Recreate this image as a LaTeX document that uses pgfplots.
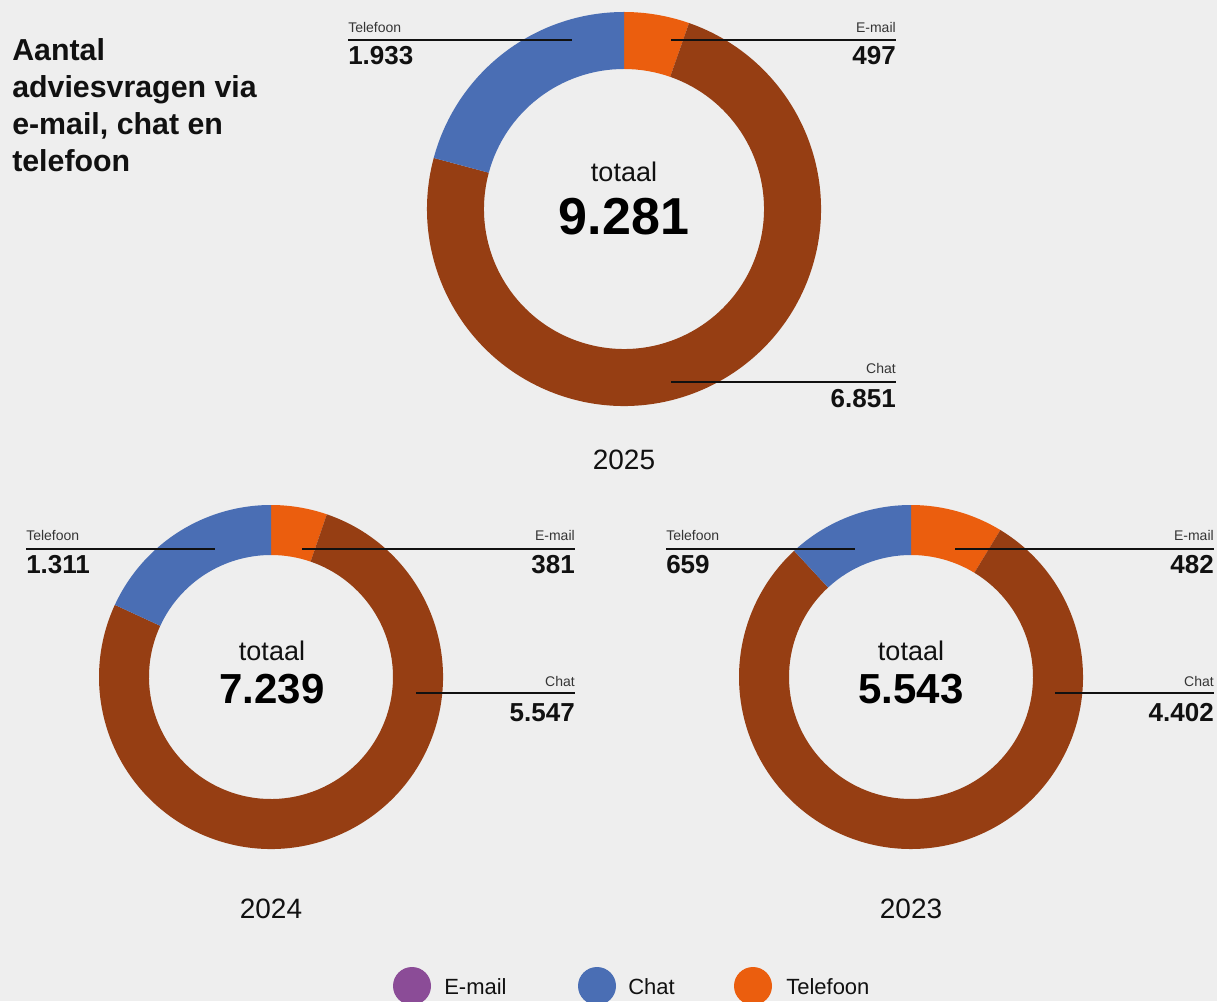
\documentclass[border=0pt]{standalone}
\usepackage{fontspec}
\setmainfont{Liberation Sans}
\usepackage{pgfplots}
\pgfplotsset{compat=1.18}
\usetikzlibrary{calc}
\definecolor{bg}{HTML}{EEEEEE}
\definecolor{cOrange}{HTML}{EB5E0E}
\definecolor{cBrown}{HTML}{963E13}
\definecolor{cBlue}{HTML}{4A6EB4}
\definecolor{cPurple}{HTML}{8B4C97}
\definecolor{txt}{HTML}{111111}

% data: E-mail, Chat, Telefoon
\def\EmailA{497}  \def\ChatA{6851} \def\TelA{1933}
\def\EmailB{381}  \def\ChatB{5547} \def\TelB{1311}
\def\EmailC{482}  \def\ChatC{4402} \def\TelC{659}

\newcommand\seg[7]{%
  \fill[#7] ($(axis cs:#1,#2)+(#5:#3)$) arc[start angle=#5, end angle=#6, radius=#3]
    -- ($(axis cs:#1,#2)+(#6:#4)$) arc[start angle=#6, end angle=#5, radius=#4] -- cycle;}
\newcommand\donut[7]{%
  \pgfmathsetmacro\tot{#5+#6+#7}%
  \pgfmathsetmacro\aB{90-(#5/\tot)*360}%
  \pgfmathsetmacro\aC{90-((#5+#6)/\tot)*360}%
  \seg{#1}{#2}{#3}{#4}{90}{\aB}{cOrange}%
  \seg{#1}{#2}{#3}{#4}{\aB}{\aC}{cBrown}%
  \seg{#1}{#2}{#3}{#4}{\aC}{-270}{cBlue}%
}
\newcommand\fs[1]{\fontsize{#1}{#1}\selectfont}

\begin{document}
\begin{tikzpicture}
\begin{axis}[
  hide axis, scale only axis, clip=false,
  width=912.75pt, height=750.75pt,
  xmin=0, xmax=1217, ymin=0, ymax=1001,
]
\pgfplotsextra{%
  \fill[bg] (rel axis cs:0,0) rectangle (rel axis cs:1,1);
  \coordinate (BL) at (rel axis cs:0,0);
  \coordinate (TR) at (rel axis cs:1,1);
  % donuts
  \donut{624}{792}{147.75pt}{105pt}{\EmailA}{\ChatA}{\TelA}
  \donut{271}{324}{129pt}{91.5pt}{\EmailB}{\ChatB}{\TelB}
  \donut{911}{324}{129pt}{91.5pt}{\EmailC}{\ChatC}{\TelC}
  % title
  \node[anchor=base west, inner sep=0, font=\fs{22.75pt}\bfseries, text=txt] at (axis cs:12,940) {Aantal};
  \node[anchor=base west, inner sep=0, font=\fs{22.75pt}\bfseries, text=txt] at (axis cs:12,903) {adviesvragen via};
  \node[anchor=base west, inner sep=0, font=\fs{22.75pt}\bfseries, text=txt] at (axis cs:12,866) {e-mail, chat en};
  \node[anchor=base west, inner sep=0, font=\fs{22.75pt}\bfseries, text=txt] at (axis cs:12,829) {telefoon};
  % leader lines
  \begin{scope}[line width=1.1pt, draw=txt]
    \draw (axis cs:348,961) -- (axis cs:572,961);
    \draw (axis cs:671,961) -- (axis cs:896,961);
    \draw (axis cs:671,619) -- (axis cs:896,619);
    \draw (axis cs:26,452) -- (axis cs:215,452);
    \draw (axis cs:302,452) -- (axis cs:575,452);
    \draw (axis cs:416,308) -- (axis cs:575,308);
    \draw (axis cs:666,452) -- (axis cs:855,452);
    \draw (axis cs:955,452) -- (axis cs:1214,452);
    \draw (axis cs:1055,308) -- (axis cs:1214,308);
  \end{scope}
  % 2025 labels
  \node[anchor=base west, inner sep=0, font=\fs{10.5pt}, text=txt!85] at (axis cs:348,968) {Telefoon};
  \node[anchor=base west, inner sep=0, font=\fs{19.5pt}\bfseries, text=txt] at (axis cs:348,936) {1.933};
  \node[anchor=base east, inner sep=0, font=\fs{10.5pt}, text=txt!85] at (axis cs:896,968) {E-mail};
  \node[anchor=base east, inner sep=0, font=\fs{19.5pt}\bfseries, text=txt] at (axis cs:896,936) {497};
  \node[anchor=base east, inner sep=0, font=\fs{10.5pt}, text=txt!85] at (axis cs:896,627) {Chat};
  \node[anchor=base east, inner sep=0, font=\fs{19.5pt}\bfseries, text=txt] at (axis cs:896,593) {6.851};
  \node[anchor=base, inner sep=0, font=\fs{20.25pt}, text=txt] at (axis cs:624,819) {totaal};
  \node[anchor=base, inner sep=0, font=\fs{39pt}\bfseries, text=black] at (axis cs:624,766) {9.281};
  \node[anchor=base, inner sep=0, font=\fs{21pt}, text=txt] at (axis cs:624,532) {2025};
  % 2024 labels
  \node[anchor=base west, inner sep=0, font=\fs{10.5pt}, text=txt!85] at (axis cs:26,461) {Telefoon};
  \node[anchor=base west, inner sep=0, font=\fs{19.5pt}\bfseries, text=txt] at (axis cs:26,428) {1.311};
  \node[anchor=base east, inner sep=0, font=\fs{10.5pt}, text=txt!85] at (axis cs:575,461) {E-mail};
  \node[anchor=base east, inner sep=0, font=\fs{19.5pt}\bfseries, text=txt] at (axis cs:575,428) {381};
  \node[anchor=base east, inner sep=0, font=\fs{10.5pt}, text=txt!85] at (axis cs:575,315) {Chat};
  \node[anchor=base east, inner sep=0, font=\fs{19.5pt}\bfseries, text=txt] at (axis cs:575,280) {5.547};
  \node[anchor=base, inner sep=0, font=\fs{20.25pt}, text=txt] at (axis cs:272,341) {totaal};
  \node[anchor=base, inner sep=0, font=\fs{31.5pt}\bfseries, text=black] at (axis cs:272,298) {7.239};
  \node[anchor=base, inner sep=0, font=\fs{21pt}, text=txt] at (axis cs:271,83) {2024};
  % 2023 labels
  \node[anchor=base west, inner sep=0, font=\fs{10.5pt}, text=txt!85] at (axis cs:666,461) {Telefoon};
  \node[anchor=base west, inner sep=0, font=\fs{19.5pt}\bfseries, text=txt] at (axis cs:666,428) {659};
  \node[anchor=base east, inner sep=0, font=\fs{10.5pt}, text=txt!85] at (axis cs:1214,461) {E-mail};
  \node[anchor=base east, inner sep=0, font=\fs{19.5pt}\bfseries, text=txt] at (axis cs:1214,428) {482};
  \node[anchor=base east, inner sep=0, font=\fs{10.5pt}, text=txt!85] at (axis cs:1214,315) {Chat};
  \node[anchor=base east, inner sep=0, font=\fs{19.5pt}\bfseries, text=txt] at (axis cs:1214,280) {4.402};
  \node[anchor=base, inner sep=0, font=\fs{20.25pt}, text=txt] at (axis cs:911,341) {totaal};
  \node[anchor=base, inner sep=0, font=\fs{31.5pt}\bfseries, text=black] at (axis cs:911,298) {5.543};
  \node[anchor=base, inner sep=0, font=\fs{21pt}, text=txt] at (axis cs:911,83) {2023};
  % legend
  \fill[cPurple] (axis cs:412,15) circle[radius=14.25pt];
  \fill[cBlue] (axis cs:597,15) circle[radius=14.25pt];
  \fill[cOrange] (axis cs:753,15) circle[radius=14.25pt];
  \node[anchor=base west, inner sep=0, font=\fs{16.5pt}, text=txt] at (axis cs:444,7) {E-mail};
  \node[anchor=base west, inner sep=0, font=\fs{16.5pt}, text=txt] at (axis cs:628,7) {Chat};
  \node[anchor=base west, inner sep=0, font=\fs{16.5pt}, text=txt] at (axis cs:786,7) {Telefoon};
}
\end{axis}
\pgfresetboundingbox
\useasboundingbox (BL) rectangle (TR);
\end{tikzpicture}
\end{document}
